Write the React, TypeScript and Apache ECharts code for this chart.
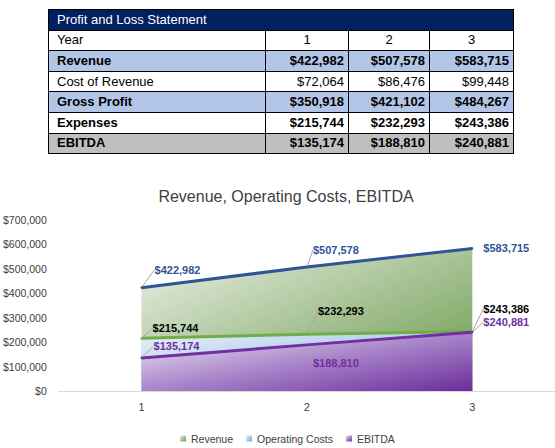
import React, { useEffect, useRef } from 'react';
import * as echarts from 'echarts';

// table + chart data
const years = ['1', '2', '3'];
const revenue = [422982, 507578, 583715];
const costOfRevenue = [72064, 86476, 99448];
const grossProfit = [350918, 421102, 484267];
const expenses = [215744, 232293, 243386];
const ebitda = [135174, 188810, 240881];

const yMax = 700000;
const yStep = 100000;

const FONT = '"Liberation Sans", Arial, sans-serif';

// where each data label sits relative to its point (px)
const revOffsets = [[36, -18], [29, -17], [34, 0]];
const opsOffsets = [[34, -10], [34, -23], [34, -23]];
const ebitdaOffsets = [[35, -12], [29, 18], [34, -10]];

const money = (v: number) => '$' + v.toLocaleString('en-US');

const grad = (a: string, b: string, c: string) => ({
  type: 'linear' as const,
  x: 0, y: 0, x2: 1, y2: 1,
  colorStops: [
    { offset: 0, color: a },
    { offset: 0.5, color: b },
    { offset: 1, color: c },
  ],
});

const greenFill = grad('#EDF1E9', '#A9C497', '#66984A');
const blueFill = grad('#E8F0F9', '#B2CDEA', '#6A9ED4');
const purpleFill = grad('#F1EBF7', '#A985C9', '#6C2C9C');

const tableRows = [
  { label: 'Year', values: years, bold: false, bg: '#FFFFFF', center: true },
  { label: 'Revenue', values: revenue.map(money), bold: true, bg: '#B4C6E7', center: false },
  { label: 'Cost of Revenue', values: costOfRevenue.map(money), bold: false, bg: '#FFFFFF', center: false },
  { label: 'Gross Profit', values: grossProfit.map(money), bold: true, bg: '#B4C6E7', center: false },
  { label: 'Expenses', values: expenses.map(money), bold: true, bg: '#FFFFFF', center: false },
  { label: 'EBITDA', values: ebitda.map(money), bold: true, bg: '#BFBFBF', center: false },
];

const makeSeries = (
  name: string,
  values: number[],
  lineColor: string,
  labelColor: string,
  fill: any,
  offsets: number[][],
  noLeader: number[] = [],
) => ({
  name,
  type: 'line',
  data: values.map((v, i) => ({
    value: v,
    labelLine: { show: !noLeader.includes(i) },
  })),
  symbol: 'circle',
  symbolSize: 2,
  itemStyle: { color: lineColor },
  lineStyle: { color: lineColor, width: 3 },
  areaStyle: { color: fill, opacity: 1 },
  label: {
    show: true,
    position: 'right',
    formatter: (p: any) => money(p.value),
    color: labelColor,
    fontFamily: FONT,
    fontSize: 11,
    fontWeight: 'bold',
  },
  labelLine: { show: true, lineStyle: { color: '#A6A6A6', width: 1 } },
  labelLayout: (p: any) => {
    const [dx, dy] = offsets[p.dataIndex];
    return {
      x: p.rect.x + p.rect.width / 2 + dx,
      y: p.rect.y + p.rect.height / 2 + dy,
      align: 'center',
      verticalAlign: 'middle',
    };
  },
  emphasis: { disabled: true },
});

const PnLChart: React.FC = () => {
  const chartRef = useRef<HTMLDivElement>(null);

  useEffect(() => {
    if (!chartRef.current) return;
    const chart = echarts.init(chartRef.current, undefined, { renderer: 'svg' });

    const option: any = {
      animation: false,
      backgroundColor: 'transparent',
      title: {
        text: 'Revenue, Operating Costs, EBITDA',
        left: 281,
        top: 183,
        textAlign: 'center',
        textStyle: { color: '#404040', fontFamily: FONT, fontSize: 16, fontWeight: 'normal' },
      },
      grid: { left: 58, right: 0, top: 220, bottom: 57 },
      xAxis: {
        type: 'category',
        data: years,
        boundaryGap: true,
        axisLine: { lineStyle: { color: '#D9D9D9', width: 1 } },
        axisTick: { show: false },
        axisLabel: { color: '#404040', fontFamily: FONT, fontSize: 11, margin: 10 },
      },
      yAxis: {
        type: 'value',
        min: 0,
        max: yMax,
        interval: yStep,
        splitLine: { show: false },
        axisLine: { show: false },
        axisTick: { show: false },
        axisLabel: {
          color: '#404040',
          fontFamily: FONT,
          fontSize: 10.5,
          margin: 12,
          formatter: (v: number) => money(v),
        },
      },
      legend: {
        left: 175,
        top: 428,
        itemWidth: 6,
        itemHeight: 6,
        itemGap: 13,
        textStyle: { color: '#404040', fontFamily: FONT, fontSize: 10.5 },
        data: [
          { name: 'Revenue', icon: 'rect', itemStyle: { color: greenFill, borderWidth: 0 } },
          { name: 'Operating Costs', icon: 'rect', itemStyle: { color: blueFill, borderWidth: 0 } },
          { name: 'EBITDA', icon: 'rect', itemStyle: { color: purpleFill, borderWidth: 0 } },
        ],
      },
      series: [
        makeSeries('Revenue', revenue, '#2F5597', '#2F5597', greenFill, revOffsets, [2]),
        makeSeries('Operating Costs', expenses, '#70AD47', '#000000', blueFill, opsOffsets),
        makeSeries('EBITDA', ebitda, '#7030A0', '#7030A0', purpleFill, ebitdaOffsets),
      ],
    };

    chart.setOption(option);
    return () => chart.dispose();
  }, []);

  return <div ref={chartRef} style={{ position: 'absolute', left: 0, top: 0, width: 555, height: 448 }} />;
};

const cell: React.CSSProperties = {
  border: '1px solid #000',
  padding: '0 4px 0 8px',
  height: 20.6,
  lineHeight: '18px',
  whiteSpace: 'nowrap',
  boxSizing: 'border-box',
};

const App: React.FC = () => (
  <div style={{ position: 'absolute', left: 0, top: 0, width: 555, height: 448, background: '#fff', overflow: 'hidden' }}>
    <PnLChart />
    <table
      style={{
        position: 'absolute',
        left: 48,
        top: 9,
        width: 465,
        borderCollapse: 'collapse',
        tableLayout: 'fixed',
        fontFamily: FONT,
        fontSize: 13,
        color: '#000',
      }}
    >
      <colgroup>
        <col style={{ width: 217 }} />
        <col style={{ width: 83 }} />
        <col style={{ width: 81 }} />
        <col style={{ width: 84 }} />
      </colgroup>
      <tbody>
        <tr>
          <td colSpan={4} style={{ ...cell, background: '#002060', color: '#fff' }}>
            Profit and Loss Statement
          </td>
        </tr>
        {tableRows.map((r) => (
          <tr key={r.label}>
            <td style={{ ...cell, background: r.bg, fontWeight: r.bold ? 'bold' : 'normal' }}>{r.label}</td>
            {r.values.map((v, i) => (
              <td
                key={i}
                style={{
                  ...cell,
                  padding: '0 4px',
                  background: r.bg,
                  fontWeight: r.bold ? 'bold' : 'normal',
                  textAlign: r.center ? 'center' : 'right',
                }}
              >
                {v}
              </td>
            ))}
          </tr>
        ))}
      </tbody>
    </table>
  </div>
);

export default App;
